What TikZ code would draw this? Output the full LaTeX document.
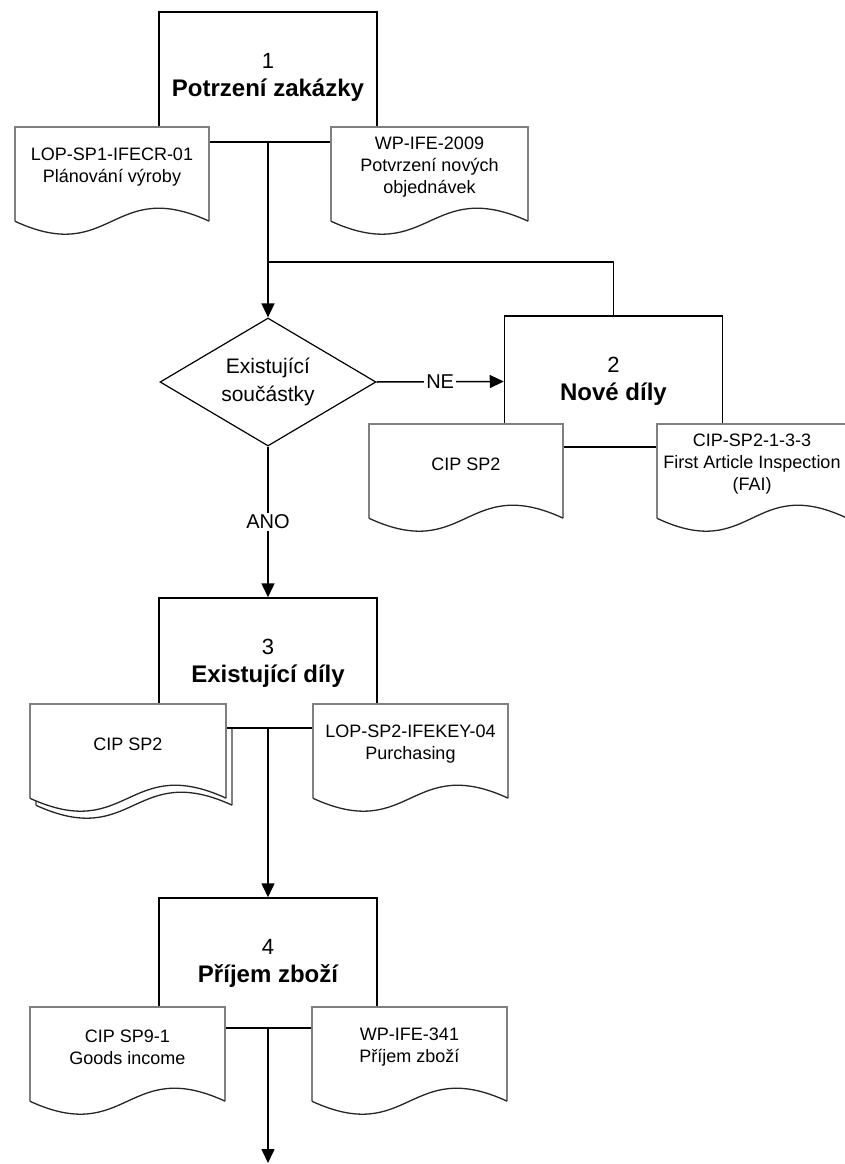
\documentclass[tikz,border=0pt]{standalone}
\usepackage{fontspec}
\setmainfont{Liberation Sans}
\usetikzlibrary{arrows.meta,shapes.geometric,calc}
\pgfdeclarelayer{back}
\pgfdeclarelayer{mid}
\pgfsetlayers{back,mid,main}

% title of a process step: number, then bold name
\newcommand\steptitle[2]{#1\\{\fontsize{24}{28}\selectfont\bfseries #2}}

% document symbol drawn around a document node: straight top and sides,
% wavy bottom edge; #2/#3 shift the whole outline (for stacked pages)
\newcommand\docoutline[3]{%
  \fill[white] ([xshift=#2,yshift=#3]#1.north west) -- ([xshift=#2,yshift=#3]#1.north east)
    -- ([xshift=#2,yshift=#3-14pt]#1.south east)
    .. controls ([xshift=#2,yshift=#3+31pt]#1.south) and ([xshift=#2,yshift=#3-59pt]#1.south)
    .. ([xshift=#2,yshift=#3-14pt]#1.south west) -- cycle;
  \draw[docedge] ([xshift=#2,yshift=#3-14pt]#1.south west) -- ([xshift=#2,yshift=#3]#1.north west)
    -- ([xshift=#2,yshift=#3]#1.north east) -- ([xshift=#2,yshift=#3-14pt]#1.south east);
  \draw[docwave] ([xshift=#2,yshift=#3-14pt]#1.south east)
    .. controls ([xshift=#2,yshift=#3+31pt]#1.south) and ([xshift=#2,yshift=#3-59pt]#1.south)
    .. ([xshift=#2,yshift=#3-14pt]#1.south west);
}

\begin{document}
\begin{tikzpicture}[x=1pt,y=-1pt,
  procbox/.style={rectangle, draw, line width=1.5pt, fill=white,
    minimum width=218pt, minimum height=130pt, inner sep=0pt, align=center,
    font=\fontsize{22}{28}\selectfont},
  document/.style={rectangle, inner sep=0pt, minimum height=80pt, align=center,
    font=\fontsize{18}{22}\selectfont},
  decision/.style={diamond, draw, line width=1.2pt, fill=white, aspect=1.7,
    minimum width=216pt, minimum height=128pt, inner sep=0pt, align=center,
    font=\fontsize{21}{28}\selectfont},
  docedge/.style={draw=black!50, line width=1.6pt},
  docwave/.style={draw=black!85, line width=1.3pt},
  link/.style={line width=1.5pt},
  flow/.style={line width=1.5pt, -{Triangle[length=14pt,width=13pt]}},
  choice/.style={fill=white, inner sep=2pt, font=\fontsize{20}{24}\selectfont}]

\useasboundingbox (0,0) rectangle (845,1164);

% document texts
\node[document, minimum width=194pt] (d1a) at (112,167) {LOP-SP1-IFECR-01\\Plánování výroby};
\node[document, minimum width=197pt] (d1b) at (429.5,167) {WP-IFE-2009\\Potvrzení nových\\objednávek};
\node[document, minimum width=194pt] (d2a) at (466,464) {CIP SP2};
\node[document, minimum width=190pt] (d2b) at (752,464) {CIP-SP2-1-3-3\\First Article Inspection\\(FAI)};
\node[document, minimum width=196pt] (d3a) at (128,744) {CIP SP2};
\node[document, minimum width=195pt] (d3b) at (410.5,744) {LOP-SP2-IFEKEY-04\\Purchasing};
\node[document, minimum width=195pt] (d4a) at (127.5,1047) {CIP SP9-1\\Goods income};
\node[document, minimum width=195pt] (d4b) at (409.5,1047) {WP-IFE-341\\Příjem zboží};

% page background and process steps, behind the documents
\begin{pgfonlayer}{back}
  \fill[white] (0,0) rectangle (845,1164);
  \docoutline{d3a}{6pt}{-7pt}
  \node[procbox] (p1) at (268,77) {\steptitle{1}{Potrzení zakázky}};
  \node[procbox, minimum height=131pt] (p2) at (613.5,381.5) {\steptitle{2}{Nové díly}};
  \node[procbox] (p3) at (268,663) {\steptitle{3}{Existující díly}};
  \node[procbox] (p4) at (268,963) {\steptitle{4}{Příjem zboží}};
\end{pgfonlayer}

% document symbols
\begin{pgfonlayer}{mid}
  \docoutline{d1a}{0pt}{0pt}
  \docoutline{d1b}{0pt}{0pt}
  \docoutline{d2a}{0pt}{0pt}
  \docoutline{d2b}{0pt}{0pt}
  \docoutline{d3a}{0pt}{0pt}
  \docoutline{d3b}{0pt}{0pt}
  \docoutline{d4a}{0pt}{0pt}
  \docoutline{d4b}{0pt}{0pt}
\end{pgfonlayer}

% decision
\node[decision] (dec) at (268,382) {Existující\\součástky};

% connectors
\coordinate (split) at (268,262);
\coordinate (out) at (268,1163);
\draw[flow] (p1.south) -- (dec.north);
\draw[link] (split) -| (p2.north);
\draw[flow] (dec.east) -- node[choice] {NE} (p2.west);
\draw[flow] (dec.south) -- node[choice] {ANO} (p3.north);
\draw[flow] (p3.south) -- (p4.north);
\draw[flow] (p4.south) -- (out);
\end{tikzpicture}
\end{document}
